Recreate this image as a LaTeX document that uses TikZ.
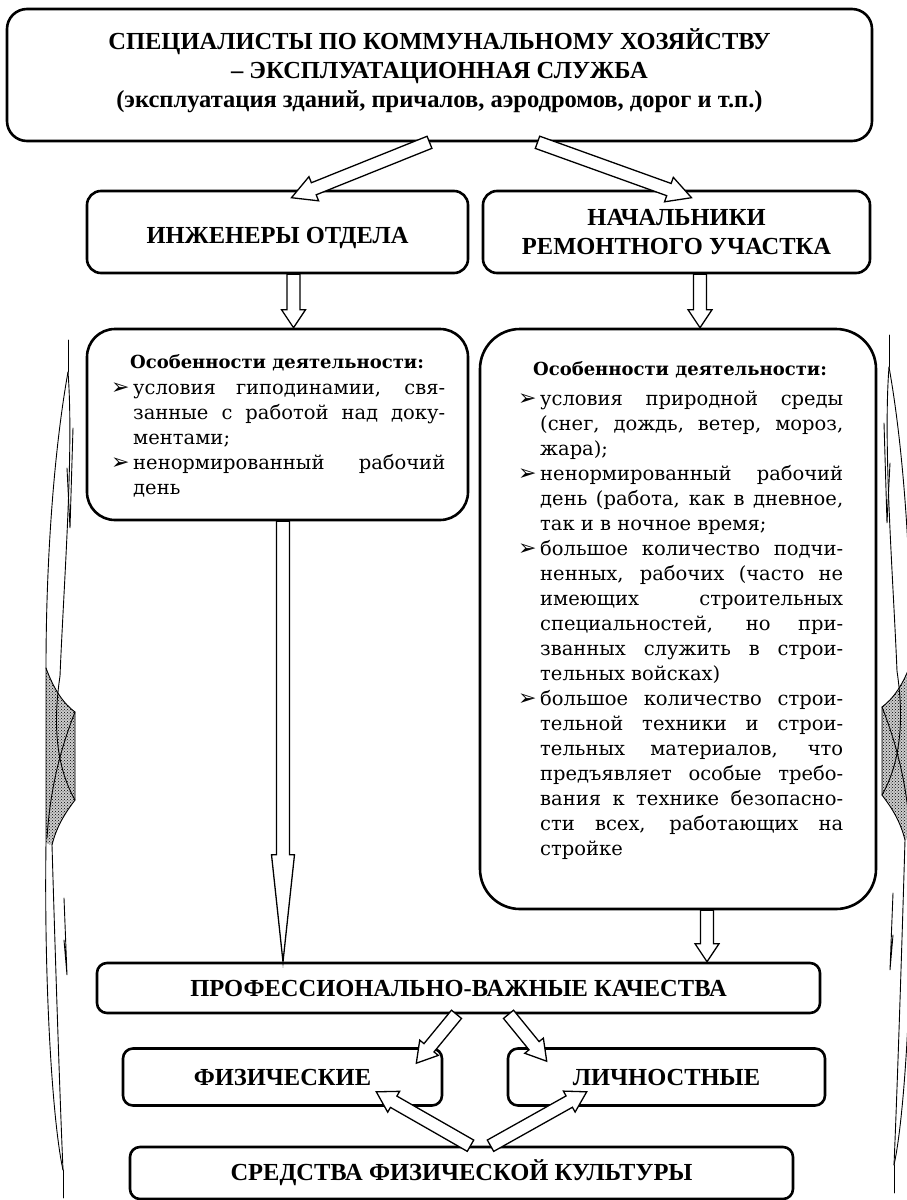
\documentclass[tikz,border=0pt]{standalone}
\usepackage{fontspec}
\setmainfont{DejaVu Serif}
\newfontfamily\headfont{Liberation Serif}
\newfontfamily\symfont{DejaVu Sans}
\usepackage{tikz}
\usetikzlibrary{calc, patterns}

\tikzset{
    rbox/.style = {draw, line width=2.6pt, rounded corners=#1, inner sep=0pt},
    rbox/.default = 12pt,
    head/.style = {font=\headfont\bfseries\fontsize{24.5}{29}\selectfont, align=center},
    note/.style = {font=\fontsize{19.5}{25}\selectfont, align=left, inner sep=0pt},
    notehead/.style = {font=\bfseries\fontsize{18}{22}\selectfont, inner sep=0pt},
    fatline/.style = {draw, fill=white, line width=1.3pt, line join=miter},
    orn/.style = {line width=0.9pt, line cap=round},
    stipple/.style = {fill=gray!40, postaction={pattern=crosshatch dots}}
}

\newcommand{\bul}{\makebox[22pt][l]{\symfont\fontsize{22}{22}\selectfont ➢}}
\newcommand{\nob}{\makebox[22pt]{}}
\newcommand{\jl}[2][303pt]{\makebox[#1][s]{#2}}

% полая стрелка: длина головки, полуширина головки, начало, конец
\newcommand{\fatarrow}[4]{%
    \coordinate (fa-s) at #3;
    \coordinate (fa-e) at #4;
    \coordinate (fa-b) at ($(fa-e)!#1pt!(fa-s)$);
    \path[fatline] ($(fa-s)!6.5pt!90:(fa-e)$) -- ($(fa-b)!6.5pt!90:(fa-e)$)
        -- ($(fa-b)!#2pt!90:(fa-e)$) -- (fa-e) -- ($(fa-b)!#2pt!-90:(fa-e)$)
        -- ($(fa-b)!6.5pt!-90:(fa-e)$) -- ($(fa-s)!6.5pt!-90:(fa-e)$) -- cycle;}

% боковой орнамент
\newcommand{\ornament}{%
    % верхний лист
    \draw[orn] (68,340) -- (68,372);
    \draw[orn] (68,372) .. controls (54,450) and (46,560) .. (46,668);
    \draw[orn] (68,372) .. controls (74,450) and (64,580) .. (60,676);
    \draw[orn] (73,428) -- (70,528) -- (67,468);
    % серая лента
    \path[stipple] (46,668) .. controls (54,690) and (64,704) .. (75,712) -- (75,800)
        .. controls (66,812) and (57,825) .. (52,845) -- (46,843) -- cycle;
    \draw[orn] (46,668) .. controls (54,690) and (64,704) .. (75,712) -- (75,800)
        .. controls (66,812) and (57,825) .. (52,845);
    \draw[orn] (60,676) .. controls (52,730) and (58,770) .. (75,800);
    \draw[orn] (75,712) .. controls (60,750) and (50,790) .. (47,838);
    % нижний лист
    \draw[orn] (46,668) -- (46,843) .. controls (44,980) and (52,1120) .. (63,1170);
    \draw[orn] (52,845) .. controls (56,980) and (60,1100) .. (63,1170);
    \draw[orn] (63,1170) -- (63,1198);
    \draw[orn] (64,898) -- (67,975) -- (64,940);
}

\begin{document}
\begin{tikzpicture}[x=1pt, y=-1pt]
    \useasboundingbox (0,0) rectangle (907,1200);
    \fill[white] (0,0) rectangle (907,1200);

    % Орнамент по бокам
    \ornament
    \begin{scope}[shift={(957,-5)}, xscale=-1]
        \ornament
    \end{scope}

    % Блоки
    \node[rbox=20pt, head, minimum width=865pt, minimum height=132pt] (top) at (439.5,75)
        {\raisebox{4pt}[\height][\depth]{\parbox{850pt}{\centering
         СПЕЦИАЛИСТЫ ПО КОММУНАЛЬНОМУ ХОЗЯЙСТВУ\\
         – ЭКСПЛУАТАЦИОННАЯ СЛУЖБА\\
         (эксплуатация зданий, причалов, аэродромов, дорог и т.п.)}}};
    \node[rbox=14pt, head, minimum width=381pt, minimum height=82pt] (inzh) at (277.5,232)
        {\raisebox{-6pt}[\height][\depth]{ИНЖЕНЕРЫ ОТДЕЛА}};
    \node[rbox=14pt, head, minimum width=387pt, minimum height=82pt] (nach) at (676.5,232)
        {НАЧАЛЬНИКИ\\РЕМОНТНОГО УЧАСТКА};
    \node[rbox=28pt, minimum width=381pt, minimum height=191pt] (featL) at (277.5,424.5) {};
    \node[rbox=40pt, minimum width=396pt, minimum height=580pt] (featR) at (678,619) {};
    \node[rbox=10pt, head, minimum width=723pt, minimum height=50pt] (prof) at (458.5,988)
        {ПРОФЕССИОНАЛЬНО-ВАЖНЫЕ КАЧЕСТВА};
    \node[rbox=10pt, head, minimum width=319pt, minimum height=57pt] (fiz) at (282.5,1077)
        {ФИЗИЧЕСКИЕ};
    \node[rbox=10pt, head, minimum width=317pt, minimum height=57pt] (lich) at (666.5,1077)
        {ЛИЧНОСТНЫЕ};
    \node[rbox=10pt, head, minimum width=663pt, minimum height=52pt] (sred) at (461.5,1173)
        {СРЕДСТВА ФИЗИЧЕСКОЙ КУЛЬТУРЫ};

    % Особенности деятельности
    \node[notehead] (featLhead) at (277,363) {Особенности деятельности:};
    \node[note, anchor=north west] (featLlist) at (111,383)
        {\bul\jl[312pt]{условия гиподинамии, свя-}\\
         \nob\jl[312pt]{занные с работой над доку-}\\
         \nob ментами;\\
         \bul\jl[312pt]{ненормированный рабочий}\\
         \nob день};
    \node[notehead] (featRhead) at (680,370) {Особенности деятельности:};
    \node[note, anchor=north west] (featRlist) at (518,391)
        {\bul\jl{условия природной среды}\\
         \nob\jl{(снег, дождь, ветер, мороз,}\\
         \nob жара);\\
         \bul\jl{ненормированный рабочий}\\
         \nob\jl{день (работа, как в дневное,}\\
         \nob так и в ночное время;\\
         \bul\jl{большое количество подчи-}\\
         \nob\jl{ненных, рабочих (часто не}\\
         \nob\jl{имеющих строительных}\\
         \nob\jl{специальностей, но при-}\\
         \nob\jl{званных служить в строи-}\\
         \nob тельных войсках)\\
         \bul\jl{большое количество строи-}\\
         \nob\jl{тельной техники и строи-}\\
         \nob\jl{тельных материалов, что}\\
         \nob\jl{предъявляет особые требо-}\\
         \nob\jl{вания к технике безопасно-}\\
         \nob\jl{сти всех, работающих на}\\
         \nob стройке};

    % Стрелки
    \fatarrow{24}{13}{($(top.south)+(-10,0)$)}{($(inzh.north)+(14,8)$)}
    \fatarrow{24}{13}{($(top.south)+(98,0)$)}{($(nach.north)+(15,8)$)}
    \fatarrow{18}{12}{($(inzh.south)+(16,0)$)}{($(featL.north)+(16,0)$)}
    \fatarrow{18}{12}{($(nach.south)+(23.5,0)$)}{($(featR.north)+(22,0)$)}
    \fatarrow{107}{11.5}{($(featL.south)+(5.5,0)$)}{($(featL.south |- prof.north)+(5.5,0)$)}
    \fatarrow{18}{12}{($(featR.south)+(29,0)$)}{($(featR.south |- prof.north)+(29,0)$)}
    \fatarrow{20}{12}{($(prof.south)+(-2,0)$)}{($(fiz.north east)+(-27,16)$)}
    \fatarrow{20}{12}{($(prof.south)+(50,0)$)}{($(lich.north west)+(40,14)$)}
    \fatarrow{20}{12}{($(sred.north)+(9,0)$)}{($(fiz.south east)+(-67,-15)$)}
    \fatarrow{20}{12}{($(sred.north)+(29,0)$)}{($(lich.south west)+(80,-15)$)}
\end{tikzpicture}
\end{document}
